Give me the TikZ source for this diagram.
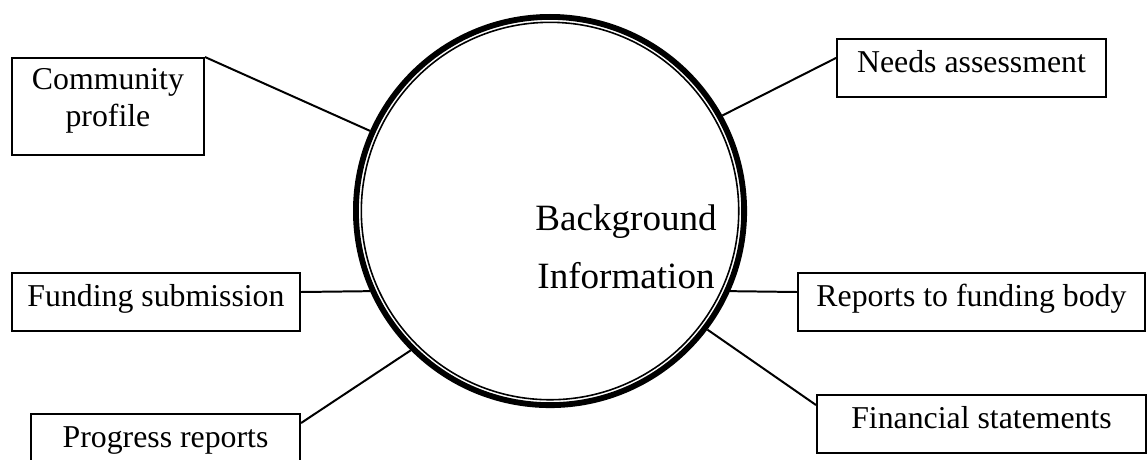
\documentclass[tikz,border=0pt]{standalone}
\usepackage{fontspec}
\setmainfont{Liberation Serif}
\usepackage{tikz}

\begin{document}
\begin{tikzpicture}[every text node part/.style={align=center},
    infobox/.style={draw, line width=0.75pt, inner sep=0pt,
      font=\fontsize{12}{14}\selectfont, text height=12.5pt, text depth=9.4pt},
    link/.style={line width=0.75pt}]
  \useasboundingbox (0,0) rectangle (15.226,6.088);

  \node[circle, draw, line width=2.2pt, minimum size=5.149cm, inner sep=0pt] (bg) at (7.295,3.289) {};
  \draw[line width=0.6pt] (bg.center) circle (2.503);
  \node[font=\fontsize{14}{21.9}\selectfont] (bgtext) at (8.303,2.820) {Background\\Information};

  \node[infobox, minimum width=2.546cm, minimum height=1.287cm, text height=26pt, text depth=10.6pt] (comm) at (1.432,4.675) {Community\\profile};
  \node[infobox, minimum width=3.568cm] (needs) at (12.885,5.186) {Needs assessment};
  \node[infobox, minimum width=3.820cm] (fund) at (2.069,2.082) {Funding submission};
  \node[infobox, minimum width=4.602cm] (rep) at (12.885,2.082) {Reports to funding body};
  \node[infobox, minimum width=3.568cm] (prog) at (2.195,0.212) {Progress reports};
  \node[infobox, minimum width=4.364cm] (fin) at (13.018,0.464) {Financial statements};

  \draw[link] (comm.north east) -- (bg.156);
  \draw[link] ([yshift=0.133cm]needs.west) -- (bg.29);
  \draw[link] ([yshift=0.133cm]fund.east) -- (bg.204);
  \draw[link] ([yshift=0.133cm]rep.west) -- (bg.336);
  \draw[link] ([yshift=0.265cm]prog.east) -- (bg.225);
  \draw[link] ([yshift=0.252cm]fin.west) -- (bg.323);
\end{tikzpicture}
\end{document}
